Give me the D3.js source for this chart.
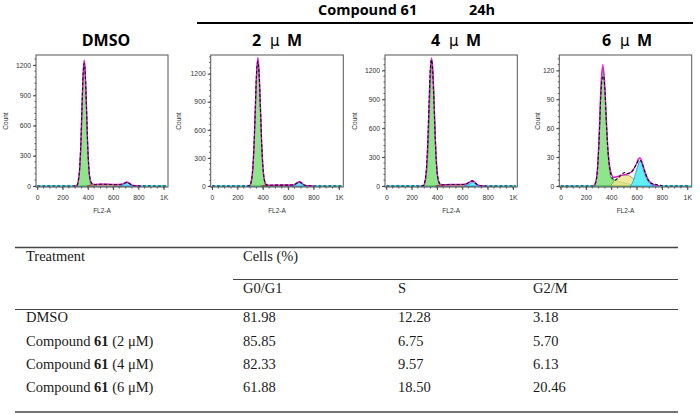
<!DOCTYPE html>
<html><head><meta charset="utf-8">
<script src="https://cdn.jsdelivr.net/npm/d3@7"></script>
<style>html,body{margin:0;padding:0;background:#fff;}svg{display:block;}</style>
</head><body>
<svg id="chart" width="700" height="415"></svg>
<script>
// ---------- DATA ----------
const panelTitles = ["DMSO", "2", "4", "6"];
const yMaxes = [1300, 1400, 1360, 136];
const countTicks = [[0,300,600,900,1200],[0,300,600,900,1200],[0,300,600,900,1200],[0,30,60,90,120]];
const flTickValues = [0,200,400,600,800,1000];
const flTickLabels = ["0","200","400","600","800","1K"];

// DMSO
const dmsoG1 = [[312,0],[324,37],[336,167],[345,395],[354,750],[363,1085],[372,1235],[381,1085],[390,750],[399,395],[408,167],[420,37],[432,5],[445,0]];
const dmsoS = [[395,0],[420,9],[460,15],[520,17],[580,16],[640,13],[690,6],[730,0]];
const dmsoG2 = [[655,0],[675,6],[692,20],[710,32],[728,20],[745,6],[765,0]];
const dmsoFit = [[290,0],[312,3],[324,42],[336,175],[345,405],[354,760],[363,1095],[372,1248],[381,1098],[390,765],[399,410],[408,185],[420,55],[432,24],[450,16],[500,17],[560,17],[620,15],[660,16],[690,26],[710,40],[730,26],[750,8],[775,2],[820,0]];
const dmsoRaw = [[0,0],[290,0],[312,4],[324,48],[336,190],[345,430],[354,790],[363,1120],[371,1215],[380,1110],[390,770],[399,420],[408,190],[420,60],[432,25],[450,14],[500,18],[560,15],[620,14],[660,17],[690,28],[710,37],[730,24],[750,7],[790,2],[850,0],[1024,0]];

// Compound 61, 2 uM
const c2G1 = [[296,0],[309,40],[322,181],[332,430],[342,815],[352,1180],[362,1340],[372,1180],[382,815],[392,430],[402,181],[415,40],[428,5],[440,0]];
const c2S = [[390,0],[420,5],[480,8],[560,9],[620,8],[670,5],[710,0]];
const c2G2 = [[625,0],[648,6],[668,22],[688,38],[708,22],[728,6],[750,0]];
const c2Fit = [[280,0],[296,3],[309,43],[322,186],[332,440],[342,830],[352,1205],[362,1370],[372,1205],[382,832],[392,445],[402,195],[415,52],[428,15],[445,9],[500,9],[580,10],[630,12],[650,15],[668,30],[688,46],[708,30],[728,10],[755,2],[800,0]];
const c2Raw = [[0,0],[280,0],[296,4],[309,50],[322,200],[332,460],[342,860],[352,1240],[361,1330],[371,1200],[382,840],[392,450],[402,200],[415,55],[428,14],[445,8],[500,9],[580,9],[630,11],[650,16],[668,31],[688,44],[708,29],[728,10],[760,3],[820,0],[1024,0]];

// Compound 61, 4 uM
const c4G1 = [[295,0],[308,39],[321,176],[331,417],[341,790],[351,1145],[361,1300],[371,1145],[381,790],[391,417],[401,176],[414,39],[427,5],[440,0]];
const c4S = [[390,0],[420,8],[480,13],[550,15],[610,14],[660,9],[700,0]];
const c4G2 = [[615,0],[640,8],[660,24],[680,38],[700,24],[720,8],[745,0]];
const c4Fit = [[275,0],[292,3],[305,42],[318,185],[328,440],[338,830],[348,1190],[358,1330],[368,1190],[378,840],[388,460],[398,205],[411,60],[425,20],[445,13],[500,15],[570,16],[620,20],[645,30],[662,44],[680,55],[700,38],[720,14],[745,3],[790,0]];
const c4Raw = [[0,0],[275,0],[292,4],[305,48],[318,200],[328,470],[338,870],[348,1220],[357,1310],[367,1180],[378,830],[388,455],[398,200],[411,62],[425,22],[445,12],[500,15],[570,15],[620,19],[645,31],[662,45],[680,53],[700,36],[720,13],[750,3],[800,0],[1024,0]];

// Compound 61, 6 uM
const c6G1 = [[262,0],[278,4],[293,20],[306,55],[319,100],[334,123],[349,100],[361,66],[373,37],[386,17],[400,8],[430,6],[480,4],[540,2],[580,0]];
const c6S = [[395,0],[420,5],[450,8.5],[490,11],[530,11],[565,8.5],[600,4.5],[635,0]];
const c6G2 = [[550,0],[570,4],[590,12],[610,21],[627,26],[645,21],[665,12],[690,5],[715,1.5],[745,0]];
const c6Fit = [[262,0],[278,4],[293,21],[306,58],[319,104],[334,126],[349,104],[361,69],[373,40],[386,22],[400,13],[420,9],[450,10],[480,11],[510,12],[540,13],[570,16],[595,22],[615,28],[628,29],[645,24],[665,15],[690,7],[715,3],[745,1],[780,0]];
const c6Raw = [[0,0],[255,0],[275,3],[290,15],[305,50],[318,95],[330,112],[340,114],[350,100],[362,65],[375,35],[390,17],[410,8],[430,6],[460,9],[490,13],[510,14],[530,13],[550,14],[575,17],[600,23],[620,27],[640,25],[660,17],[685,8],[710,3],[740,2],[780,1],[820,0],[1024,0]];

// Table
const treatments = ["DMSO", "2", "4", "6"];
const g0g1Values = ["81.98", "85.85", "82.33", "61.88"];
const sValues = ["12.28", "6.75", "9.57", "18.50"];
const g2mValues = ["3.18", "5.70", "6.13", "20.46"];

// ---------- LAYOUT ----------
const svg = d3.select("#chart");
const boxes = [[36,168],[210.7,343.3],[385,517.3],[559.3,691.7]];
const countOffsets = [28, 30, 28, 19];
const titleCenters = [106, 278, 457, 628];
const plotTop = 55, plotBottom = 187;

const panels = [
  {g1: dmsoG1, s: dmsoS, g2: dmsoG2, fit: dmsoFit, raw: dmsoRaw},
  {g1: c2G1, s: c2S, g2: c2G2, fit: c2Fit, raw: c2Raw},
  {g1: c4G1, s: c4S, g2: c4G2, fit: c4Fit, raw: c4Raw},
  {g1: c6G1, s: c6S, g2: c6G2, fit: c6Fit, raw: c6Raw}
];

const titleFont = "'Open Sans', 'DejaVu Sans', sans-serif";
const axisFont = "'Liberation Sans', Arial, sans-serif";

// Top header
svg.append("line").attr("x1",197).attr("x2",693).attr("y1",23).attr("y2",23)
  .attr("stroke","#000").attr("stroke-width",2);
svg.append("text").attr("x",318).attr("y",15).attr("font-family",titleFont)
  .attr("font-weight","bold").attr("font-size",14.5).text("Compound 61");
svg.append("text").attr("x",469).attr("y",15).attr("font-family",titleFont)
  .attr("font-weight","bold").attr("font-size",14.5).text("24h");

panels.forEach((p, i) => {
  const [L, R] = boxes[i];
  const x = d3.scaleLinear().domain([-10, 1035]).range([L, R]);
  const y = d3.scaleLinear().domain([0, yMaxes[i]]).range([plotBottom - 1, plotBottom - 1 - 131]);
  const g = svg.append("g");

  // title
  const cx = titleCenters[i];
  if (i === 0) {
    g.append("text").attr("x", cx).attr("y", 46).attr("text-anchor","middle")
      .attr("font-family", titleFont).attr("font-weight","bold").attr("font-size",16).text(panelTitles[i]);
  } else {
    const t = g.append("text").attr("y", 46).attr("font-family", titleFont).attr("font-size",16);
    t.append("tspan").attr("x", cx - 26).attr("font-weight","bold").text(panelTitles[i]);
    t.append("tspan").attr("x", cx - 8).attr("font-weight","normal").attr("font-size",15)
      .attr("font-family","'DejaVu Sans', sans-serif").text("μ");
    t.append("tspan").attr("x", cx + 9).attr("font-weight","bold").text("M");
  }

  const clipId = "clip" + i;
  svg.append("clipPath").attr("id", clipId).append("rect")
    .attr("x", L).attr("y", plotTop).attr("width", R - L).attr("height", plotBottom - plotTop);
  const plot = g.append("g").attr("clip-path", `url(#${clipId})`);

  const area = d3.area().x(d => x(d[0])).y0(y(0)).y1(d => y(d[1])).curve(d3.curveMonotoneX);
  const line = d3.line().x(d => x(d[0])).y(d => y(d[1])).curve(d3.curveMonotoneX);

  // baseline component line (cyan)
  plot.append("line").attr("x1", x(0)).attr("x2", x(1024)).attr("y1", y(0)).attr("y2", y(0))
    .attr("stroke", "#22d8e8").attr("stroke-width", 1.6);

  plot.append("path").datum(p.g1).attr("d", area).attr("fill", "#8fe58a")
    .attr("stroke", "#2f9a3a").attr("stroke-width", 0.9);
  plot.append("path").datum(p.s).attr("d", area).attr("fill", "#efe28a").attr("fill-opacity", 0.8)
    .attr("stroke", i === 3 ? "#8fa040" : "#a0304a").attr("stroke-width", 0.9);
  plot.append("path").datum(p.g2).attr("d", area).attr("fill", "#62f0f5").attr("stroke", "#1f9fd8").attr("stroke-width", 0.9);
  plot.append("path").datum(p.fit).attr("d", line).attr("fill", "none").attr("stroke", "#ee10e0").attr("stroke-width", 1.4);
  plot.append("path").datum(p.raw).attr("d", line).attr("fill", "none").attr("stroke", "#111")
    .attr("stroke-width", 1.1).attr("stroke-dasharray", "3,2");

  // frame
  g.append("rect").attr("x", L).attr("y", plotTop).attr("width", R - L).attr("height", plotBottom - plotTop)
    .attr("fill", "none").attr("stroke", "#555").attr("stroke-width", 1);

  // axes
  const yAxis = d3.axisLeft(y).tickValues(countTicks[i]).tickFormat(d3.format("d")).tickSize(3).tickPadding(2);
  const ya = g.append("g").attr("transform", `translate(${L},0)`).call(yAxis);
  const xAxis = d3.axisBottom(x).tickValues(flTickValues).tickFormat((d, k) => flTickLabels[k]).tickSize(3).tickPadding(5);
  const xa = g.append("g").attr("transform", `translate(0,${plotBottom})`).call(xAxis);
  [ya, xa].forEach(a => {
    a.select(".domain").remove();
    a.selectAll("line").attr("stroke", "#444");
    a.selectAll("text").attr("font-family", axisFont).attr("font-size", 6.8).attr("fill", "#333");
  });
  // minor ticks
  const yStep = countTicks[i][1] / 5;
  g.append("g").selectAll("line").data(d3.range(0, yMaxes[i], yStep)).join("line")
    .attr("x1", L - 1.5).attr("x2", L).attr("y1", d => y(d)).attr("y2", d => y(d)).attr("stroke", "#555");
  g.append("g").selectAll("line").data(d3.range(0, 1025, 50)).join("line")
    .attr("x1", d => x(d)).attr("x2", d => x(d)).attr("y1", plotBottom).attr("y2", plotBottom + 1.5).attr("stroke", "#555");

  // axis labels
  g.append("text").attr("transform", `translate(${L - countOffsets[i]},${(plotTop + plotBottom) / 2}) rotate(-90)`)
    .attr("text-anchor", "middle").attr("font-family", axisFont).attr("font-size", 6.5).attr("fill", "#333").text("Count");
  g.append("text").attr("x", (L + R) / 2).attr("y", 213).attr("text-anchor", "middle")
    .attr("font-family", axisFont).attr("font-size", 6.5).attr("fill", "#333").text("FL2-A");
});

// ---------- TABLE ----------
const tFont = "'Liberation Serif', 'Times New Roman', serif";
const tSize = 14.5;
const tColor = "#1a1a1a";
const colX = [26, 243, 398, 533];
const rowY = [322, 346, 369, 392];
const lineColor = "#444";
const tbl = svg.append("g");
tbl.append("line").attr("x1",15).attr("x2",678).attr("y1",247.5).attr("y2",247.5).attr("stroke",lineColor).attr("stroke-width",1.4);
tbl.append("line").attr("x1",233).attr("x2",678).attr("y1",279.5).attr("y2",279.5).attr("stroke",lineColor).attr("stroke-width",1);
tbl.append("line").attr("x1",15).attr("x2",678).attr("y1",309.5).attr("y2",309.5).attr("stroke",lineColor).attr("stroke-width",1);
tbl.append("line").attr("x1",15).attr("x2",678).attr("y1",412).attr("y2",412).attr("stroke",lineColor).attr("stroke-width",1.4);

function txt(x, y, s) {
  return tbl.append("text").attr("x", x).attr("y", y).attr("font-family", tFont)
    .attr("font-size", tSize).attr("fill", tColor).text(s);
}
txt(colX[0], 261, "Treatment");
txt(colX[1], 261, "Cells (%)");
txt(colX[1], 293, "G0/G1");
txt(colX[2], 293, "S");
txt(colX[3], 293, "G2/M");

treatments.forEach((t, r) => {
  const yy = rowY[r];
  if (r === 0) {
    txt(colX[0], yy, t);
  } else {
    const el = tbl.append("text").attr("x", colX[0]).attr("y", yy).attr("font-family", tFont)
      .attr("font-size", tSize).attr("fill", tColor);
    el.append("tspan").text("Compound ");
    el.append("tspan").attr("font-weight", "bold").text("61");
    el.append("tspan").text(` (${t} μM)`);
  }
  txt(colX[1], yy, g0g1Values[r]);
  txt(colX[2], yy, sValues[r]);
  txt(colX[3], yy, g2mValues[r]);
});
</script>
</body></html>
